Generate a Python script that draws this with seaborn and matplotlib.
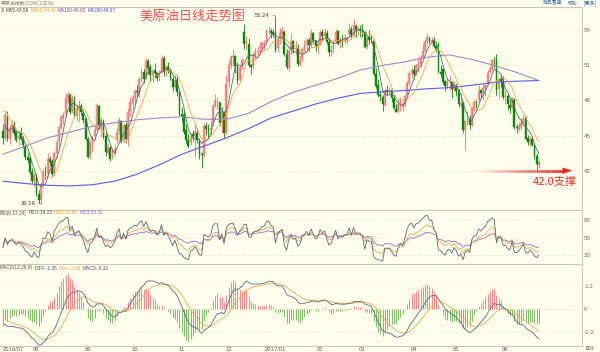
import matplotlib
matplotlib.use('Agg')
import matplotlib.pyplot as plt
from matplotlib import font_manager
from matplotlib.collections import LineCollection
import numpy as np
import pandas as pd
import seaborn as sns

# WTI daily bars, 2016-07-11 .. 2017-06-22 (one row of numbers per month)
opens = [
    45.41, 44.83, 46.63, 44.75, 45.68, 45.93, 45.29, 44.74, 45.20, 44.75, 44.08, 43.17, 43.10, 41.92, 41.15,
    41.57, 40.00, 39.48, 40.86, 41.84, 41.75, 43.04, 42.84, 41.81, 43.48, 44.51, 45.72, 46.51, 46.75, 48.14, 48.51, 47.06, 48.06, 46.70, 47.29, 47.56, 46.94, 46.40,
    44.73, 43.31, 44.65, 44.96, 45.51, 47.52, 45.53, 46.27, 44.98, 43.54, 43.92, 43.18, 43.42, 44.64, 45.35, 46.25, 44.60, 45.94, 44.82, 47.09, 47.75,
    48.25, 48.85, 48.66, 49.85, 50.46, 50.08, 51.40, 50.82, 50.13, 50.56, 50.31, 50.11, 50.36, 51.65, 50.65, 50.87, 50.61, 49.84, 49.19, 49.79, 48.73,
    46.83, 46.73, 45.46, 44.64, 44.43, 45.12, 45.00, 45.23, 44.53, 43.45, 43.36, 45.81, 45.55, 45.48, 46.06, 47.49, 47.93, 47.86, 46.19, 47.00, 45.31,
    49.56, 51.05, 51.72, 51.81, 50.95, 49.79, 50.99, 53.84, 52.90, 52.79, 51.00, 50.94, 51.80, 52.13, 52.47, 52.51, 52.96, 53.03, 54.01, 53.96, 53.87,
    53.87, 52.49, 53.28, 53.70, 53.86, 52.01, 50.79, 52.30, 53.07, 52.39, 52.51, 51.14, 51.51, 52.40, 52.76, 53.15, 52.74, 53.76, 53.10, 52.56,
    52.79, 53.86, 53.51, 53.79, 53.02, 52.16, 52.40, 53.03, 53.92, 52.89, 53.24, 53.08, 53.29, 53.69, 54.12, 53.62, 54.40, 54.00, 54.10,
    54.02, 53.85, 52.58, 53.43, 53.18, 53.12, 50.30, 49.35, 48.45, 48.32, 47.64, 48.87, 48.75, 48.89, 48.17, 47.31, 47.08, 47.63, 47.41, 47.74, 48.45, 49.53, 50.29,
    50.59, 50.25, 51.04, 51.15, 51.73, 52.27, 53.07, 53.36, 53.11, 53.20, 52.65, 52.33, 50.45, 50.71, 49.63, 49.23, 49.54, 49.58, 48.98,
    49.19, 48.86, 47.65, 47.79, 45.49, 46.24, 46.41, 45.90, 47.27, 47.85, 48.03, 48.87, 48.66, 48.97, 49.45, 50.45, 50.72, 51.39, 51.50, 48.94, 49.81, 49.65,
    48.30, 48.37, 47.63, 47.38, 48.05, 45.73, 45.60, 45.75, 46.08, 46.53, 44.78, 44.41, 44.75, 44.20, 43.25, 42.52,
]
highs = [
    45.85, 47.02, 47.07, 45.92, 46.29, 46.22, 45.50, 45.48, 45.70, 44.97, 44.17, 43.55, 43.27, 42.27, 41.81,
    41.79, 40.36, 41.01, 42.18, 42.36, 43.52, 43.25, 43.01, 43.70, 44.59, 45.86, 46.73, 46.99, 48.56, 48.75, 48.65, 48.43, 48.36, 47.64, 48.06, 47.75, 47.18, 46.56,
    44.91, 44.65, 45.09, 45.79, 47.75, 47.60, 46.60, 46.43, 45.28, 44.25, 44.10, 43.92, 44.31, 45.67, 46.55, 46.32, 46.09, 46.14, 47.35, 48.30, 48.45,
    49.00, 49.36, 49.98, 50.74, 50.67, 51.60, 51.54, 51.10, 50.54, 51.20, 50.44, 50.63, 51.93, 51.78, 51.06, 51.26, 50.66, 50.05, 50.09, 50.15, 48.79,
    47.43, 47.13, 45.95, 45.14, 45.20, 45.51, 45.95, 45.62, 44.77, 43.62, 46.04, 46.14, 45.95, 46.25, 47.67, 48.57, 48.29, 47.88, 47.51, 47.10, 50.22,
    51.48, 51.85, 52.42, 51.90, 51.28, 51.05, 51.66, 54.51, 53.47, 53.33, 51.16, 52.00, 52.46, 52.68, 53.09, 53.04, 53.17, 54.14, 54.37, 54.19, 54.09,
    55.24, 53.39, 54.19, 54.34, 54.01, 52.38, 52.60, 53.78, 53.19, 53.11, 52.82, 51.88, 52.60, 53.18, 53.35, 53.33, 54.13, 53.88, 53.20, 53.04,
    54.00, 54.07, 54.17, 54.06, 53.30, 52.70, 53.24, 54.13, 53.95, 53.43, 53.66, 53.71, 53.46, 54.59, 54.33, 54.94, 54.53, 54.35, 54.45,
    54.55, 53.91, 53.55, 54.03, 53.59, 53.24, 50.77, 49.87, 48.82, 48.46, 48.98, 49.30, 49.12, 49.05, 48.58, 47.71, 48.09, 48.28, 47.86, 48.52, 49.69, 50.43, 50.85,
    51.01, 51.15, 51.74, 51.88, 52.94, 53.14, 53.76, 53.55, 53.41, 53.44, 52.84, 52.96, 51.06, 50.78, 49.76, 49.89, 50.17, 49.67, 49.68,
    49.47, 48.98, 48.60, 47.97, 46.36, 47.09, 46.78, 47.48, 48.04, 48.06, 49.30, 48.94, 49.40, 49.47, 50.57, 50.91, 51.55, 51.73, 52.00, 49.95, 50.23, 50.12,
    48.88, 48.67, 48.10, 48.32, 48.18, 46.00, 46.15, 46.52, 46.80, 46.64, 45.02, 44.95, 44.92, 44.32, 43.51, 42.90,
]
lows = [
    44.31, 44.55, 44.58, 44.27, 45.29, 44.97, 44.48, 44.22, 44.61, 43.98, 42.94, 42.67, 41.70, 40.99, 40.57,
    39.85, 39.24, 39.19, 40.55, 41.26, 41.61, 42.36, 41.50, 41.55, 43.12, 44.14, 45.56, 46.03, 46.56, 47.81, 46.86, 46.97, 46.53, 46.21, 46.20, 46.72, 46.08, 44.63,
    43.05, 43.09, 43.71, 44.75, 45.30, 45.60, 44.92, 44.70, 43.23, 43.33, 42.83, 42.99, 43.25, 44.40, 45.13, 44.35, 44.44, 44.39, 44.12, 46.66, 47.25,
    47.82, 48.33, 48.30, 49.55, 49.46, 49.82, 50.35, 49.61, 49.62, 49.95, 49.65, 49.69, 50.34, 50.10, 50.06, 50.33, 49.77, 48.81, 49.04, 48.38, 46.66,
    46.19, 45.16, 44.35, 43.90, 44.23, 44.53, 43.20, 44.34, 43.03, 42.20, 43.16, 45.01, 44.84, 45.09, 45.80, 47.44, 47.28, 45.82, 45.25, 44.82, 45.12,
    49.18, 50.68, 50.99, 50.35, 49.37, 49.64, 50.65, 52.36, 52.42, 50.85, 50.27, 50.66, 51.45, 51.81, 52.05, 52.26, 52.39, 52.86, 53.64, 53.37, 53.41,
    52.11, 52.18, 52.81, 53.23, 51.80, 50.71, 50.51, 51.98, 52.04, 51.90, 50.91, 50.91, 51.27, 52.13, 52.40, 52.27, 52.57, 52.87, 52.25, 52.09,
    52.75, 53.08, 53.39, 52.82, 51.79, 51.77, 52.08, 52.90, 52.73, 52.52, 52.55, 52.82, 52.80, 53.54, 53.24, 53.43, 53.46, 53.67, 53.40,
    53.39, 52.50, 52.40, 52.83, 52.93, 50.11, 49.05, 48.34, 47.97, 47.09, 47.45, 48.47, 48.48, 47.88, 47.25, 47.01, 46.93, 47.13, 47.08, 47.44, 48.38, 49.32, 49.96,
    49.87, 50.14, 50.42, 50.85, 51.62, 52.18, 52.81, 52.89, 52.95, 52.59, 52.17, 50.39, 50.02, 49.41, 48.83, 49.00, 48.85, 48.18, 48.82,
    48.37, 47.46, 47.32, 45.19, 43.76, 45.94, 45.59, 45.86, 47.14, 47.38, 47.83, 48.21, 48.08, 48.39, 49.31, 50.33, 50.61, 50.80, 48.45, 48.17, 49.15, 48.16,
    47.73, 47.20, 46.89, 47.35, 45.56, 45.20, 45.40, 45.50, 45.88, 44.65, 44.22, 44.15, 44.07, 43.02, 42.05, 42.25,
]
closes = [
    44.76, 46.80, 44.75, 45.68, 45.95, 45.24, 44.65, 44.94, 44.75, 44.19, 43.13, 42.92, 41.92, 41.14, 41.60,
    40.06, 39.51, 40.83, 41.93, 41.80, 43.02, 42.77, 41.71, 43.49, 44.49, 45.74, 46.58, 46.79, 48.22, 48.52, 47.05, 48.10, 46.77, 47.33, 47.64, 46.98, 46.35, 44.70,
    43.16, 44.44, 44.83, 45.50, 47.62, 45.88, 46.29, 44.90, 43.58, 43.91, 43.03, 43.30, 43.85, 45.34, 46.32, 44.48, 45.93, 44.67, 47.05, 47.83, 48.24,
    48.81, 48.69, 49.83, 50.44, 49.81, 51.35, 50.79, 50.18, 50.44, 50.35, 49.94, 50.29, 51.60, 50.43, 50.85, 50.52, 49.96, 49.18, 49.72, 48.70, 46.86,
    46.67, 45.34, 44.66, 44.07, 44.89, 44.98, 45.27, 44.66, 43.41, 43.32, 45.81, 45.57, 45.42, 45.69, 47.49, 47.98, 47.96, 46.06, 47.08, 45.23, 49.44,
    51.06, 51.68, 51.79, 50.93, 49.77, 50.84, 51.50, 52.83, 52.98, 51.04, 50.90, 51.90, 52.12, 52.23, 52.49, 52.95, 53.02, 53.90, 54.06, 53.77, 53.72,
    52.33, 53.26, 53.76, 53.99, 51.96, 50.82, 52.25, 53.01, 52.37, 52.48, 51.08, 51.37, 52.42, 52.75, 53.18, 52.75, 53.78, 53.17, 52.63, 52.81,
    53.88, 53.54, 53.83, 53.01, 52.17, 52.34, 53.00, 53.86, 52.93, 53.20, 53.11, 53.36, 53.40, 54.06, 53.59, 54.45, 53.99, 54.05, 54.01,
    53.83, 52.61, 53.33, 53.20, 53.14, 50.28, 49.28, 48.49, 48.40, 47.72, 48.86, 48.75, 48.78, 48.22, 47.34, 47.04, 47.70, 47.97, 47.73, 48.37, 49.51, 50.35, 50.60,
    50.24, 51.03, 51.15, 51.70, 52.24, 53.08, 53.40, 53.11, 53.18, 52.65, 52.41, 50.44, 50.27, 49.62, 49.23, 49.56, 49.62, 48.97, 49.33,
    48.84, 47.66, 47.82, 45.52, 46.22, 46.43, 45.88, 47.33, 47.83, 47.84, 48.85, 48.66, 49.07, 49.35, 50.33, 50.73, 51.47, 51.36, 48.90, 49.80, 49.66, 48.32,
    48.36, 47.66, 47.40, 48.19, 45.72, 45.64, 45.83, 46.08, 46.46, 44.73, 44.46, 44.74, 44.20, 43.23, 42.53, 42.75,
]
# closes before the first bar, only used to warm up MA / RSI / MACD
warmup_close = [49.01, 49.17, 48.62, 49.69, 50.36, 51.23, 50.56, 49.07, 48.88, 48.49,
                48.01, 46.21, 47.98, 49.37, 48.85, 49.13, 50.11, 47.64, 46.33, 47.85,
                49.88, 48.33, 48.99, 46.60, 47.43, 45.14, 45.41]

# long averages every 10 bars
ma_long_idx = list(range(0, 241, 10))
ma100 = [43.4, 44.1, 44.8, 45.3, 45.8, 46.1, 46.35, 46.5, 46.6, 46.4, 46.4, 46.9, 47.9,
         48.7, 49.3, 49.9, 50.6, 51.0, 51.3, 51.7, 51.9, 51.5, 51.0, 50.4, 49.7]
ma200 = [41.1, 40.9, 40.75, 40.7, 40.8, 41.1, 41.7, 42.5, 43.4, 44.1, 44.8, 45.6, 46.5,
         47.1, 47.7, 48.2, 48.6, 48.75, 48.85, 49.0, 49.1, 49.3, 49.55, 49.65, 49.7]

month_labels = ['2016/07', '08', '09', '10', '11', '12', '2017/01', '02', '03', '04', '05', '06']
month_start = [0, 15, 38, 59, 80, 101, 122, 142, 161, 184, 203, 225]

support = 42.0
title = '美原油日线走势图'
ma_legend = [('X', '#404040'), ('MA5:43.56', '#404040'), ('MA10:44.46', '#f0a040'),
             ('MA100:48.82', '#7a4a9a'), ('MA200:49.67', '#4a4ae0')]
rsi_legend = [('RSI(6,12,24)', '#505050'), ('RSI1:19.23', '#405060'),
              ('RSI2:25.86', '#f0a040'), ('RSI3:33.32', '#8060b0')]
macd_legend = [('MACD(12,26,9)', '#505050'), ('DIFF:-1.35', '#405060'),
               ('DEA:-1.19', '#f0a040'), ('MACD:-0.32', '#604070')]

BG = '#fefeec'
sns.set_style('white', rc={'axes.facecolor': BG, 'figure.facecolor': BG})
plt.rcParams['font.family'] = ['Noto Sans CJK SC', 'DejaVu Sans']
plt.rcParams['axes.unicode_minus'] = False

installed = {f.name for f in font_manager.fontManager.ttflist}
SMALL = 'Liberation Sans Narrow' if 'Liberation Sans Narrow' in installed else 'Liberation Sans'

W, H = 600, 352
fig = plt.figure(figsize=(6, 3.52), dpi=100)


def rect(top, bottom, left=0, right=582):
    return [left / W, 1 - bottom / H, (right - left) / W, (bottom - top) / H]


ax = fig.add_axes(rect(7, 210))
ax_rsi = fig.add_axes(rect(210, 264), sharex=ax)
ax_macd = fig.add_axes(rect(264, 346), sharex=ax)

o, h, l, c = map(np.array, (opens, highs, lows, closes))
idx = np.arange(len(c))

# indicators
full = pd.Series(warmup_close + closes)
nw = len(warmup_close)
ma5 = full.rolling(5).mean().to_numpy()[nw:]
ma10 = full.rolling(10).mean().to_numpy()[nw:]
chg = full.diff().fillna(0)


def rsi(n):
    up = chg.clip(lower=0).ewm(alpha=1 / n, adjust=False).mean()
    tot = chg.abs().ewm(alpha=1 / n, adjust=False).mean()
    return (100 * up / tot).to_numpy()[nw:]


dif = full.ewm(span=12, adjust=False).mean() - full.ewm(span=26, adjust=False).mean()
dea = dif.ewm(span=9, adjust=False).mean()
macd = (2 * (dif - dea)).to_numpy()[nw:]
dif = dif.to_numpy()[nw:]
dea = dea.to_numpy()[nw:]

# candles
UP_C, DN_C = '#f07070', '#0a880a'
up = c >= o
body = np.where(np.abs(c - o) < 0.03, 0.03, c - o)
ax.vlines(idx[up], l[up], h[up], color=UP_C, lw=0.6)
ax.vlines(idx[~up], l[~up], h[~up], color=DN_C, lw=0.6)
ax.bar(idx[up], body[up], bottom=o[up], width=0.8, color='#f6a0a0', edgecolor=UP_C, linewidth=0.3)
ax.bar(idx[~up], body[~up], bottom=o[~up], width=0.8, color=DN_C, edgecolor=DN_C, linewidth=0.3)

sns.lineplot(x=ma_long_idx, y=ma100, ax=ax, color='#a088c8', lw=0.8, legend=False)
sns.lineplot(x=ma_long_idx, y=ma200, ax=ax, color='#5a5ae8', lw=0.8, legend=False)
sns.lineplot(x=idx, y=ma10, ax=ax, color='#f5a550', lw=0.6, legend=False)
sns.lineplot(x=idx, y=ma5, ax=ax, color='#5a6878', lw=0.6, legend=False)

# extremes
imax, imin = int(np.argmax(h)), int(np.argmin(l))
for i, val in ((imax, h[imax]), (imin, l[imin])):
    ax.annotate(f'{val:.2f}', xy=(i, val), xytext=(-4, 0), textcoords='offset points',
                ha='right', va='center', fontsize=4.2, color='#404040', family=SMALL,
                arrowprops=dict(arrowstyle='-', color='#606060', lw=0.5))

# support arrow with fading tail
x0, x1, xh = 213, 251, 255
xs = np.linspace(x0, x1, 41)
segs = [[(xs[k], support), (xs[k + 1], support)] for k in range(40)]
cols = [(0.93, 0.15, 0.15, a) for a in np.linspace(0.03, 1, 40)]
ax.add_collection(LineCollection(segs, colors=cols, linewidths=2))
ax.fill([x1 - 0.5, xh, x1 - 0.5], [support + 0.27, support, support - 0.27], color='#ee2525', lw=0)
ax.text(237.3, support - 0.95, f'{support:.1f}支撑', fontsize=8, color='#ee2b2b', ha='left', va='center')

# RSI
sns.lineplot(x=idx, y=rsi(24), ax=ax_rsi, color='#9070c0', lw=0.6, legend=False)
sns.lineplot(x=idx, y=rsi(12), ax=ax_rsi, color='#f5a550', lw=0.6, legend=False)
sns.lineplot(x=idx, y=rsi(6), ax=ax_rsi, color='#5a6878', lw=0.6, legend=False)

# MACD
ax_macd.vlines(idx, 0, macd, colors=np.where(macd >= 0, '#f28888', '#7cbc66'), lw=0.7)
sns.lineplot(x=idx, y=dea, ax=ax_macd, color='#f5a550', lw=0.6, legend=False)
sns.lineplot(x=idx, y=dif, ax=ax_macd, color='#5a6878', lw=0.6, legend=False)

ax.set_ylim(38.64, 55.99)
ax.set_yticks([42, 45, 48, 51, 54])
ax_rsi.set_ylim(4.9, 97.5)
ax_rsi.set_yticks([20, 50, 80])
ax_macd.set_ylim(-1.92, 2.33)
ax_macd.set_yticks([-1.2, 0, 1.2])
ax_macd.set_yticklabels(['-1.2', '0', '1.2'])
ax.set_xlim(-1.34, 259.3)

for a in (ax, ax_rsi, ax_macd):
    a.set_facecolor(BG)
    a.spines['left'].set_visible(False)
    for s in ('top', 'right', 'bottom'):
        a.spines[s].set_color('#c8c8c0')
        a.spines[s].set_linewidth(0.8)
    a.yaxis.tick_right()
    a.tick_params(axis='y', length=0, labelsize=4.5, labelcolor='#707070', pad=1.5)
    a.tick_params(axis='x', length=0, labelbottom=False)
    a.grid(axis='y', ls=(0, (1, 2)), color='#d0d0c6', lw=0.5)
    a.set_xlabel('')
    a.set_ylabel('')
    for t in a.get_yticklabels():
        t.set_family(SMALL)

ax_macd.set_xticks(month_start)
ax_macd.set_xticklabels(month_labels)
ax_macd.tick_params(axis='x', labelbottom=True, labelsize=4.2, labelcolor='#606060', pad=1)
for t in ax_macd.get_xticklabels():
    t.set_family(SMALL)
ax_macd.get_xticklabels()[0].set_ha('left')


# header texts
def ftext(px, py, s, **kw):
    return fig.text(px / W, 1 - py / H, s, va='center', **kw)


fig.canvas.draw()
renderer = fig.canvas.get_renderer()


def chain(items, px, py, size=3.4, gap=1.5):
    for s, col in items:
        t = ftext(px, py, s, fontsize=size, color=col, family=SMALL)
        px = t.get_window_extent(renderer).x1 + gap


ftext(1, 3, '美原油指数(CONC)(日线)', fontsize=3.5, color='#808080')
ftext(543, 3, '商品看盘', fontsize=3.5, color='#3a70a8')
ftext(568, 3, '帮助', fontsize=3.5, color='#3a70a8')
ftext(584, 3, '[更多]', fontsize=3.5, color='#3a70a8')
chain(ma_legend, 1, 10)
chain(rsi_legend, 0, 213)
chain(macd_legend, 0, 268)
ftext(139, 16.5, title, fontsize=9.5, color='#f05555')
ftext(584, 349, '日线', fontsize=3.5, color='#606060')

fig.savefig('out.png', dpi=100, facecolor=BG)
